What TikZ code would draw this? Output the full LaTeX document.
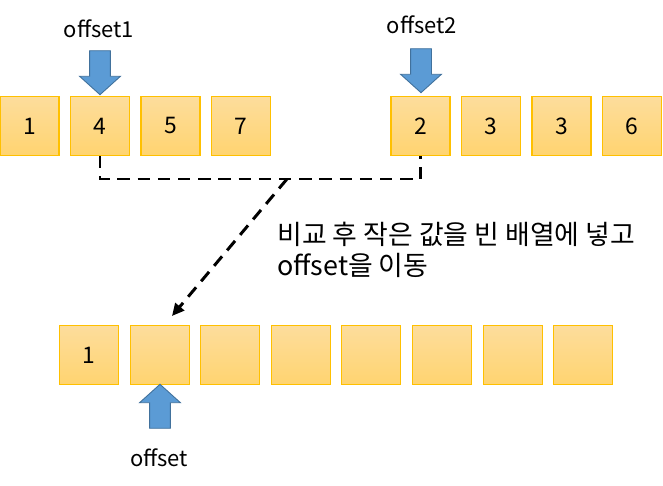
\documentclass[tikz,border=0pt]{standalone}
\usepackage{fontspec}
\setmainfont{Noto Sans CJK KR}
\usepackage{tikz}
\usetikzlibrary{arrows.meta}
\usetikzlibrary{shapes.arrows}
\definecolor{cellTop}{RGB}{253,221,156}
\definecolor{cellBot}{RGB}{255,212,112}
\definecolor{cellLine}{RGB}{255,192,0}
\definecolor{ptrFill}{RGB}{91,155,213}
\definecolor{ptrLine}{RGB}{65,113,156}
\tikzset{
  cell/.style = {draw=cellLine, line width=0.6pt, top color=cellTop, bottom color=cellBot,
    minimum size=1.18cm, inner sep=0pt, font=\fontsize{13}{15}\selectfont},
  pointer/.style = {single arrow, draw=ptrLine, fill=ptrFill, line width=0.5pt,
    inner xsep=0pt, inner ysep=0.2cm, minimum height=0.88cm,
    single arrow head extend=0.2cm, single arrow tip angle=96},
  label/.style = {inner sep=0pt, font=\fontsize{12.5}{15}\selectfont},
  link/.style = {line width=1.7pt, dash pattern=on 7pt off 4.5pt}
}

\begin{document}
\begin{tikzpicture}[x=0.02cm, y=-0.02cm]
  \useasboundingbox (0,0) rectangle (663,486);

  \foreach \v [count=\i] in {1,4,5,7}
    \node[cell] (a\i) at ({29.5+70.5*(\i-1)},126) {\v};
  \foreach \v [count=\i] in {2,3,3,6}
    \node[cell] (b\i) at ({420.5+70.5*(\i-1)},126) {\v};
  \foreach \v [count=\i] in {1,,,,,,,}
    \node[cell] (c\i) at ({89+70.6*(\i-1)},355) {\v};

  \node[pointer, rotate=-90] (p1) at (100,68) {};
  \node[pointer, rotate=-90] (p2) at (421,66) {};
  \node[pointer, rotate=90] (p3) at (160,411) {};

  \node[label] (l1) at (99,29) {offset1};
  \node[label] (l2) at (422,25) {offset2};
  \node[label] (l3) at (159,458) {offset};

  \coordinate (fork) at (287,179);
  \coordinate (drop) at (172,316);
  \draw[link] (a2.south) |- (fork) -| (b1.south);
  \draw[link, -{Triangle[length=7pt, width=6.5pt]}] (fork) -- (drop);

  \node[label, anchor=north west, align=left, font=\fontsize{15.3}{17.5}\selectfont] (note) at (277,222)
    {비교 후 작은 값을 빈 배열에 넣고\\offset을 이동};
\end{tikzpicture}
\end{document}
